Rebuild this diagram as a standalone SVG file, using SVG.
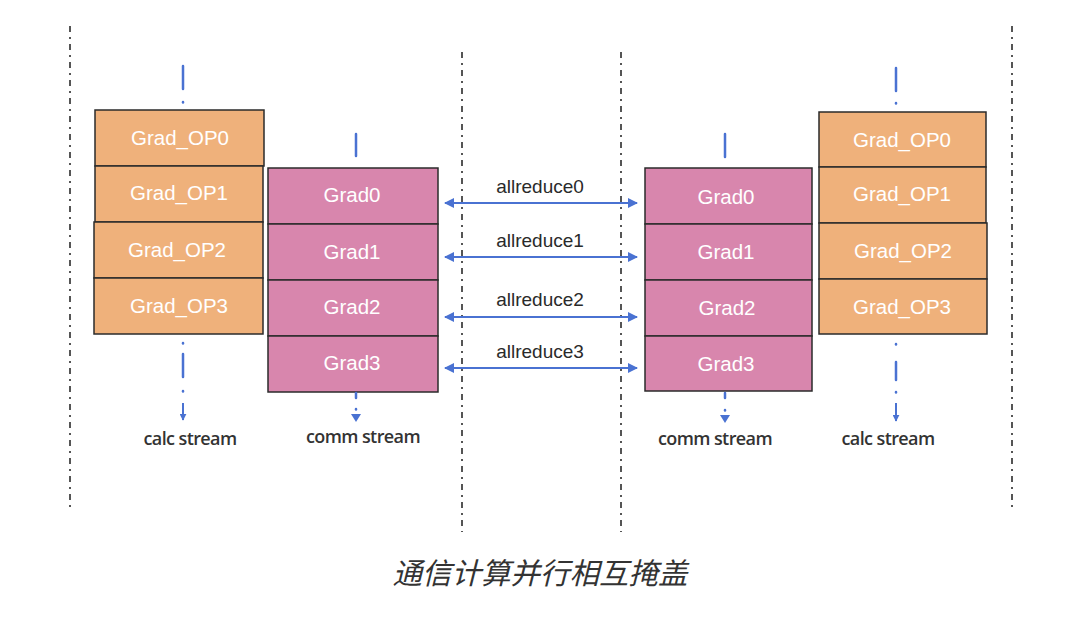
<svg xmlns="http://www.w3.org/2000/svg" width="1080" height="619" viewBox="0 0 1080 619">
<defs>
<style>
.sep{stroke:#555;stroke-width:2;stroke-dasharray:6 5 2 5;fill:none}
.op{fill:#EFB17B;stroke:#2b2b2b;stroke-width:1.5}
.gr{fill:#D886AD;stroke:#2b2b2b;stroke-width:1.5}
.bt{font-family:"Liberation Sans",Arial,sans-serif;font-size:20.5px;fill:#fff;text-anchor:middle}
.lb{font-family:"Liberation Sans",Arial,sans-serif;font-size:19px;fill:#2a2a2a;text-anchor:middle}
.st{font-family:"Open Sans","Liberation Sans",sans-serif;font-size:18px;font-weight:600;fill:#333;text-anchor:middle;letter-spacing:-0.6px}
.bl{stroke:#4A72D2;stroke-width:2.5;fill:none;stroke-linecap:round}
.ar{stroke:#4A72D2;stroke-width:2;fill:none}
.cap{font-family:"Noto Sans CJK SC",sans-serif;font-size:29.5px;font-style:italic;fill:#333;text-anchor:middle}
</style>
<marker id="ah" viewBox="0 0 10 10" refX="9" refY="5" markerWidth="5" markerHeight="5" orient="auto-start-reverse" markerUnits="strokeWidth">
<path d="M0,0 L10,5 L0,10 z" fill="#4A72D2"/>
</marker>
<marker id="dh" viewBox="0 0 10 10" refX="9" refY="5" markerWidth="3.5" markerHeight="3.5" orient="auto" markerUnits="strokeWidth">
<path d="M0,0 L10,5 L0,10 z" fill="#4A72D2"/>
</marker>
</defs>
<rect width="1080" height="619" fill="#fff"/>
<g id="separators">
<line class="sep" x1="70" y1="26" x2="70" y2="507"/>
<line class="sep" x1="462" y1="52" x2="462" y2="532"/>
<line class="sep" x1="621" y1="52" x2="621" y2="532"/>
<line class="sep" x1="1012" y1="26" x2="1012" y2="507"/>
</g>
<g id="left-calc">
<rect class="op" x="95" y="110" width="169" height="56"/>
<rect class="op" x="95" y="166" width="168" height="56"/>
<rect class="op" x="94" y="222" width="169" height="56"/>
<rect class="op" x="94" y="278" width="169" height="56"/>
<text class="bt" x="180" y="145">Grad_OP0</text>
<text class="bt" x="179" y="200">Grad_OP1</text>
<text class="bt" x="177" y="257">Grad_OP2</text>
<text class="bt" x="179" y="313">Grad_OP3</text>
</g>
<g id="left-comm">
<rect class="gr" x="268" y="168" width="170" height="56"/>
<rect class="gr" x="268" y="224" width="170" height="56"/>
<rect class="gr" x="268" y="280" width="170" height="56"/>
<rect class="gr" x="268" y="336" width="170" height="56"/>
<text class="bt" x="352" y="202">Grad0</text>
<text class="bt" x="352" y="259">Grad1</text>
<text class="bt" x="352" y="314">Grad2</text>
<text class="bt" x="352" y="370">Grad3</text>
</g>
<g id="right-comm">
<rect class="gr" x="645" y="168" width="167" height="56"/>
<rect class="gr" x="645" y="224" width="167" height="56"/>
<rect class="gr" x="645" y="280" width="167" height="56"/>
<rect class="gr" x="645" y="336" width="167" height="55"/>
<text class="bt" x="726" y="204">Grad0</text>
<text class="bt" x="726" y="259">Grad1</text>
<text class="bt" x="727" y="315">Grad2</text>
<text class="bt" x="726" y="371">Grad3</text>
</g>
<g id="right-calc">
<rect class="op" x="819" y="112" width="167" height="55"/>
<rect class="op" x="819" y="167" width="167" height="56"/>
<rect class="op" x="819" y="223" width="168" height="56"/>
<rect class="op" x="819" y="279" width="168" height="55"/>
<text class="bt" x="902" y="147">Grad_OP0</text>
<text class="bt" x="902" y="201">Grad_OP1</text>
<text class="bt" x="903" y="258">Grad_OP2</text>
<text class="bt" x="902" y="314">Grad_OP3</text>
</g>
<g id="connectors">
<line class="bl" x1="183" y1="66" x2="183" y2="89"/>
<line class="bl" x1="183" y1="102" x2="183" y2="102.5"/>
<line class="bl" x1="183" y1="343" x2="183" y2="343.5"/>
<line class="bl" x1="183" y1="354" x2="183" y2="377"/>
<line class="bl" x1="183" y1="391" x2="183" y2="391.5"/>
<line class="ar" x1="183" y1="403" x2="183" y2="420" marker-end="url(#dh)" stroke-width="2.5"/>
<line class="bl" x1="356" y1="134" x2="356" y2="156"/>
<line class="bl" x1="356" y1="393" x2="356" y2="398"/>
<line class="bl" x1="356" y1="409" x2="356" y2="409.5"/>
<path d="M351,414 L361,414 L356,422 z" fill="#4A72D2"/>
<line class="bl" x1="725" y1="134" x2="725" y2="157"/>
<line class="bl" x1="725" y1="393" x2="725" y2="398"/>
<line class="bl" x1="725" y1="410" x2="725" y2="410.5"/>
<path d="M720,415 L730,415 L725,423 z" fill="#4A72D2"/>
<line class="bl" x1="896" y1="68" x2="896" y2="91"/>
<line class="bl" x1="896" y1="103" x2="896" y2="103.5"/>
<line class="bl" x1="896" y1="344" x2="896" y2="344.5"/>
<line class="bl" x1="896" y1="362" x2="896" y2="380"/>
<line class="bl" x1="896" y1="392" x2="896" y2="392.5"/>
<line class="ar" x1="896" y1="403" x2="896" y2="421" marker-end="url(#dh)" stroke-width="2.5"/>
<line class="ar" x1="445" y1="203" x2="637" y2="203" marker-start="url(#ah)" marker-end="url(#ah)"/>
<line class="ar" x1="445" y1="257" x2="637" y2="257" marker-start="url(#ah)" marker-end="url(#ah)"/>
<line class="ar" x1="445" y1="317" x2="637" y2="317" marker-start="url(#ah)" marker-end="url(#ah)"/>
<line class="ar" x1="445" y1="368" x2="637" y2="368" marker-start="url(#ah)" marker-end="url(#ah)"/>
</g>
<g id="labels">
<text class="lb" x="540" y="193">allreduce0</text>
<text class="lb" x="540" y="247">allreduce1</text>
<text class="lb" x="540" y="306">allreduce2</text>
<text class="lb" x="540" y="358">allreduce3</text>
<text class="st" x="190" y="445">calc stream</text>
<text class="st" x="363" y="443">comm stream</text>
<text class="st" x="715" y="445">comm stream</text>
<text class="st" x="888" y="445">calc stream</text>
<text class="cap" x="540" y="584">通信计算并行相互掩盖</text>
</g>
</svg>
